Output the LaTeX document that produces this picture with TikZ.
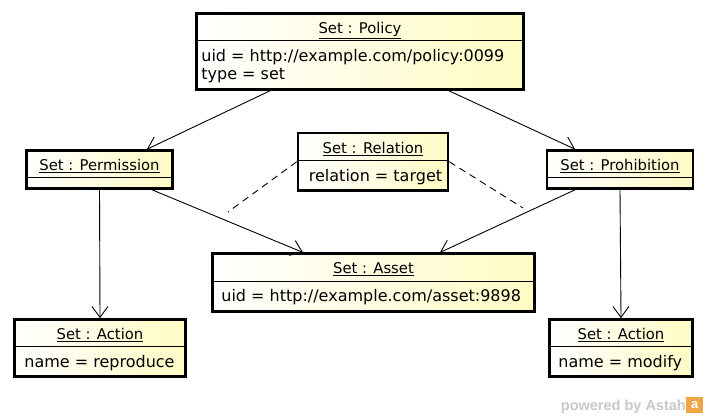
\documentclass[tikz,border=0pt]{standalone}
\usepackage{fontspec}
\setmainfont{DejaVu Sans}
\newfontfamily\markfont{Liberation Sans}
\usetikzlibrary{arrows.meta}

\definecolor{objyellow}{RGB}{255,251,196}
\definecolor{markgray}{RGB}{200,200,200}
\definecolor{markorange}{RGB}{240,165,70}

\tikzset{
  obj/.style={draw, line width=2.6pt, left color=white, right color=objyellow, inner sep=0pt},
  ttl/.style={anchor=base, inner sep=0pt, font=\fontsize{14.8}{17}\selectfont},
  attr/.style={anchor=base west, inner sep=0pt},
  sepline/.style={line width=0.8pt},
  link/.style={line width=0.9pt, -{Straight Barb[length=11pt,width=16pt]}},
  rel/.style={line width=0.9pt, dash pattern=on 7pt off 5pt},
}

\begin{document}
\begin{tikzpicture}[x=1pt, y=-1pt, every node/.style={font=\fontsize{16}{18}\selectfont}]
  \useasboundingbox (0,0) rectangle (706,417);

  % objects
  \node[obj, minimum width=327, minimum height=76] (policy) at (360,51.5) {};
  \node[ttl] at ([yshift=-21.5]policy.north) {\underline{Set : Policy}};
  \draw[sepline] ([yshift=-28.5]policy.north west) -- ([yshift=-28.5]policy.north east);
  \node[attr] at ([xshift=6,yshift=-49.5]policy.north west) {uid = http://example.com/policy:0099};
  \node[attr] at ([xshift=6,yshift=-67.5]policy.north west) {type = set};

  \node[obj, minimum width=150, minimum height=57.5] (relation) at (373,161.75) {};
  \node[ttl] at ([yshift=-21.5]relation.north) {\underline{Set : Relation}};
  \draw[sepline] ([yshift=-28.5]relation.north west) -- ([yshift=-28.5]relation.north east);
  \node[attr] at ([xshift=12,yshift=-49.5]relation.north west) {relation = target};

  \node[obj, minimum width=146, minimum height=38] (permission) at (99.5,169.5) {};
  \node[ttl] at ([yshift=-21.5]permission.north) {\underline{Set : Permission}};
  \draw[sepline] ([yshift=-28.5]permission.north west) -- ([yshift=-28.5]permission.north east);

  \node[obj, minimum width=146, minimum height=38] (prohibition) at (620,169.5) {};
  \node[ttl] at ([yshift=-21.5]prohibition.north) {\underline{Set : Prohibition}};
  \draw[sepline] ([yshift=-28.5]prohibition.north west) -- ([yshift=-28.5]prohibition.north east);

  \node[obj, minimum width=322, minimum height=57.5] (asset) at (373.5,282.5) {};
  \node[ttl] at ([yshift=-21.5]asset.north) {\underline{Set : Asset}};
  \draw[sepline] ([yshift=-28.5]asset.north west) -- ([yshift=-28.5]asset.north east);
  \node[attr] at ([xshift=10,yshift=-49.5]asset.north west) {uid = http://example.com/asset:9898};

  \node[obj, minimum width=171, minimum height=57] (actionA) at (100,348) {};
  \node[ttl] at ([yshift=-21.5]actionA.north) {\underline{Set : Action}};
  \draw[sepline] ([yshift=-28.5]actionA.north west) -- ([yshift=-28.5]actionA.north east);
  \node[attr] at ([xshift=11,yshift=-49.5]actionA.north west) {name = reproduce};

  \node[obj, minimum width=143, minimum height=57] (actionB) at (621,348) {};
  \node[ttl] at ([yshift=-21.5]actionB.north) {\underline{Set : Action}};
  \draw[sepline] ([yshift=-28.5]actionB.north west) -- ([yshift=-28.5]actionB.north east);
  \node[attr] at ([xshift=10,yshift=-49.5]actionB.north west) {name = modify};

  % links
  \draw[link] ([xshift=-90]policy.south) -- ([xshift=47.5]permission.north);
  \draw[link] ([xshift=89]policy.south) -- ([xshift=-45]prohibition.north);
  \draw[link] (permission.south) -- (actionA.north);
  \draw[link] (prohibition.south) -- (actionB.north);
  \draw[link] ([xshift=52.5]permission.south) -- ([xshift=-70.5]asset.north);
  \draw[link] ([xshift=-45]prohibition.south) -- ([xshift=66.5]asset.north);

  % relation to its links
  \coordinate (relA) at (228,212);
  \coordinate (relB) at (523,208);
  \draw[rel] (relation.west) -- (relA);
  \draw[rel] (relation.east) -- (relB);

  % watermark
  \node[anchor=base east, inner sep=0pt, text=markgray, font=\markfont\bfseries\fontsize{14.5}{16}\selectfont] (mark) at (686,410) {powered by Astah};
  \node[anchor=west, fill=markorange, text=white, inner sep=0pt, minimum width=17, minimum height=16, font=\markfont\bfseries\fontsize{13}{14}\selectfont] (logo) at ([yshift=5]mark.base east) {a};
\end{tikzpicture}
\end{document}
